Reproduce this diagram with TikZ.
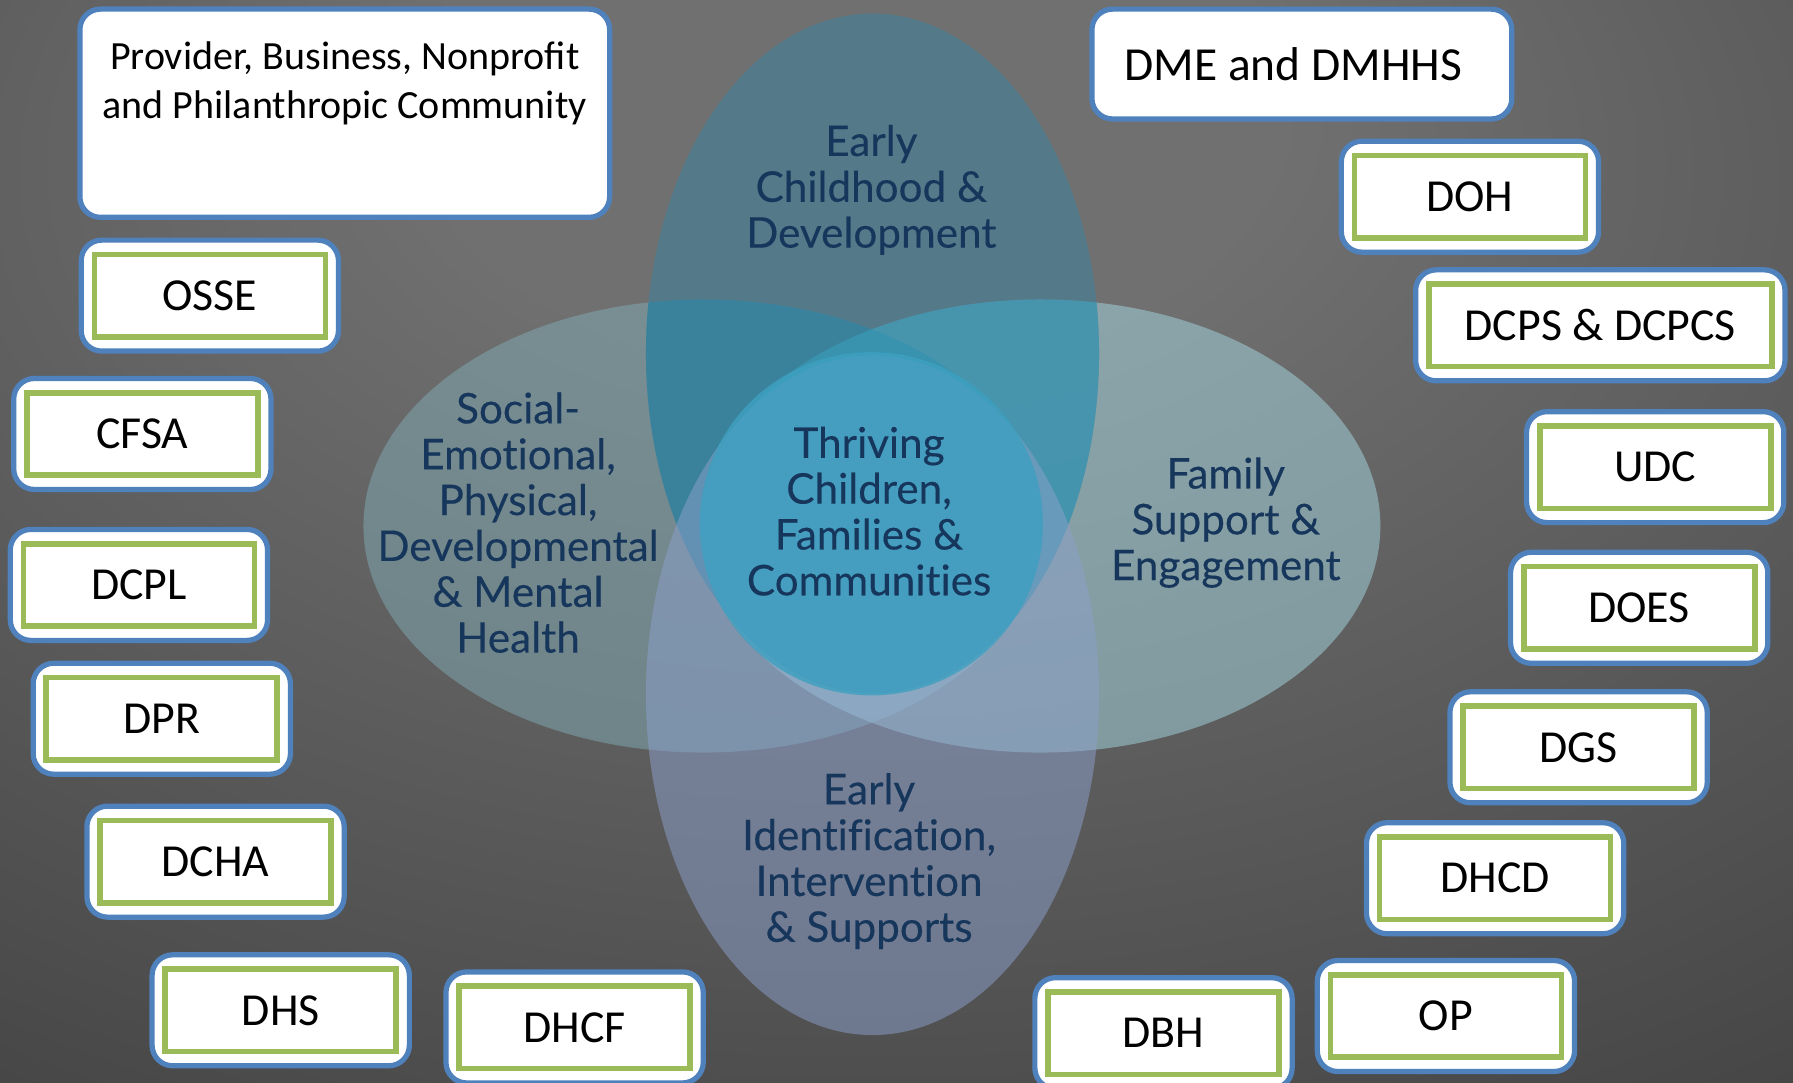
\documentclass[tikz,border=0pt]{standalone}
\usepackage{fontspec}
\setmainfont{Carlito}
\newfontfamily\vennfont[Ligatures=NoCommon, FakeBold=0.3]{Lato}
\usetikzlibrary{positioning}

\definecolor{boxblue}{RGB}{79,129,189}
\definecolor{boxgreen}{RGB}{155,187,89}
\definecolor{venntext}{RGB}{22,54,92}
\definecolor{bgin}{RGB}{112,112,112}
\definecolor{bgmid}{RGB}{66,66,66}
\definecolor{bgout}{RGB}{24,24,24}
\definecolor{topcol}{RGB}{70,128,152}
\definecolor{leftcol}{RGB}{128,172,182}
\definecolor{rightcol}{RGB}{165,216,226}
\definecolor{botcol}{RGB}{140,160,204}
\definecolor{midcol}{RGB}{62,160,192}
\definecolor{tlcol}{RGB}{40,130,160}
\definecolor{trcol}{RGB}{55,155,185}

\pgfdeclareradialshading{bgshade}{\pgfpoint{-1.5bp}{23bp}}{color(0bp)=(bgin); color(12bp)=(bgin); color(48bp)=(bgmid); color(92bp)=(bgout)}

\tikzset{
  agency/.style={draw=boxblue, line width=1.3pt, fill=white, rounded corners=0.18cm,
    minimum height=0.97cm, inner sep=0pt},
  greenbox/.style={draw=boxgreen, line width=1.4pt, fill=white, minimum height=0.72cm,
    inner sep=0pt, font=\fontsize{11.4}{13.7}\selectfont},
  venn/.style={align=center, text=venntext, inner sep=0pt,
    font=\vennfont\fontsize{10.5}{11.4}\selectfont},
}

\begin{document}
\begin{tikzpicture}[x=0.01cm, y=-0.01cm]
  \useasboundingbox (0,0) rectangle (1568,947);
  \shade[shading=bgshade] (0,0) rectangle (1568,947);

  % venn diagram
  \fill[leftcol, opacity=0.5] (615,460) ellipse [x radius=2.97cm, y radius=1.98cm];
  \fill[rightcol, opacity=0.5] (910,460) ellipse [x radius=2.97cm, y radius=1.98cm];
  \fill[topcol, opacity=0.65] (763,309) ellipse [x radius=1.98cm, y radius=2.97cm];
  \begin{scope}
    \clip (763,309) ellipse [x radius=1.98cm, y radius=2.97cm];
    \fill[tlcol, opacity=0.6] (615,460) ellipse [x radius=2.97cm, y radius=1.98cm];
    \fill[trcol, opacity=0.6] (910,460) ellipse [x radius=2.97cm, y radius=1.98cm];
  \end{scope}
  \fill[botcol, opacity=0.5] (763,608) ellipse [x radius=1.98cm, y radius=2.97cm];
  \fill[midcol, opacity=0.8] (762,458) circle [radius=1.5cm];

  \node[venn] (ecd) at (762,166) {Early\\Childhood \&\\Development};
  \node[venn] (sed) at (453,457) {Social-\\Emotional,\\Physical,\\Developmental\\\& Mental\\Health};
  \node[venn] (thr) at (760,447) {Thriving\\Children,\\Families \&\\Communities};
  \node[venn] (fam) at (1072,457) {Family\\Support \&\\Engagement};
  \node[venn] (eis) at (760,753) {Early\\Identification,\\Intervention\\\& Supports};

  % partner boxes
  \node[agency, minimum width=4.63cm, minimum height=1.82cm] (prov) at (301.5,99) {};
  \node[below=0.3cm of prov.north, align=center, inner sep=0pt,
    font=\fontsize{9.95}{12.2}\selectfont] (provtxt)
    {Provider, Business, Nonprofit\\and Philanthropic Community};
  \node[agency, minimum width=3.67cm, minimum height=0.96cm] (dme) at (1138.5,56) {};
  \node[font=\fontsize{11.8}{14}\selectfont, inner sep=0pt] (dmetxt) at (1131,56) {DME and DMHHS};

  % agencies
  \foreach \nm/\x/\y/\w/\txt in {osse/183.5/258.5/225/OSSE, cfsa/124.5/379.5/225/CFSA,
      dcpl/121.5/511.5/225/DCPL, dpr/141.5/628.5/225/DPR, dcha/188.5/753.5/225/DCHA,
      dhs/245.5/883.5/225/DHS, dhcf/502.5/898.5/225/DHCF, dbh/1017.5/903.5/225/DBH,
      op/1264.5/888.5/225/OP, dhcd/1307.5/768/225/DHCD, dgs/1380.5/653.5/225/DGS,
      does/1433.5/531.5/225/DOES, udc/1447.5/408.5/225/UDC, doh/1285.5/172/225/DOH,
      dcps/1399.5/284.5/323/{DCPS \& DCPCS}}
  {
    \node[agency, minimum width=\w*0.01cm] (\nm-out) at (\x,\y) {};
    \node[greenbox, minimum width=(\w-23)*0.01cm] (\nm) at (\nm-out) {\txt};
  }
\end{tikzpicture}
\end{document}
